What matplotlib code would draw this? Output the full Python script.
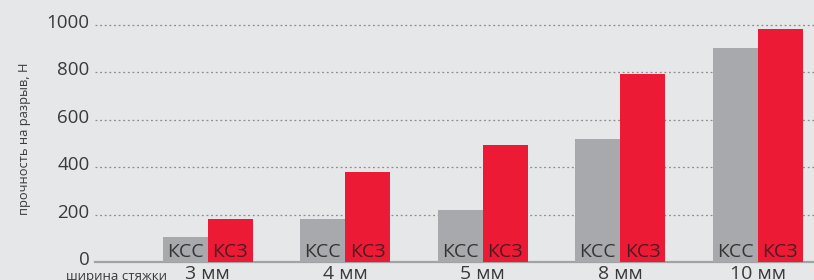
import matplotlib
matplotlib.use("Agg")
import matplotlib.pyplot as plt
import numpy as np
from matplotlib.transforms import ScaledTranslation

plt.rcParams['font.family'] = ['Open Sans', 'DejaVu Sans']

categories = ["3 мм", "4 мм", "5 мм", "8 мм", "10 мм"]
kss = [105, 180, 220, 520, 905]
ksz = [180, 378, 492, 795, 985]
series_names = ["КСС", "КСЗ"]
yticks = [0, 200, 400, 600, 800, 1000]
ylabel = "прочность на разрыв, Н"
xtitle = "ширина стяжки"

bg = "#e6e7e9"
gray = "#a8a9ac"
red = "#ed1a35"
txt = "#3a3a3a"

W, H = 814, 280
fig = plt.figure(figsize=(W / 100, H / 100), dpi=100, facecolor=bg)
ax = fig.add_axes([95 / W, 18 / H, (W - 95) / W, 262 / H])
ax.set_facecolor(bg)

x = np.arange(len(categories))
bw = 45 / 137.5
ax.bar(x - bw / 2, kss, width=bw, color=gray, zorder=3)
ax.bar(x + bw / 2, ksz, width=bw, color=red, zorder=3)

for xi in x:
    ax.text(xi - bw / 2, 21, series_names[0], ha="center", va="baseline",
            fontsize=14, color="#333333", zorder=4)
    ax.text(xi + bw / 2, 21, series_names[1], ha="center", va="baseline",
            fontsize=14, color="#4a1a22", zorder=4)

ax.set_xlim(-0.82, -0.82 + (W - 95) / 137.5)
ax.set_ylim(0, 262 / 0.237)

for s in ax.spines.values():
    s.set_visible(False)
ax.axhline(0, color="#a3a3a5", lw=1.6, zorder=2, clip_on=False)

ax.set_yticks(yticks)
ax.set_yticklabels([str(v) for v in yticks])
ax.tick_params(axis="y", length=0, pad=4, labelsize=13.5, labelcolor=txt)
for lab in ax.get_yticklabels():
    lab.set_transform(lab.get_transform() + ScaledTranslation(0, 4 / 100, fig.dpi_scale_trans))
for v in yticks[1:]:
    ax.axhline(v, color="#8c8c8c", lw=0.9, ls=(0, (1.5, 2.2)), zorder=1)

ax.set_xticks(x)
ax.set_xticklabels(categories)
ax.tick_params(axis="x", length=0, pad=2, labelsize=14, labelcolor=txt)

fig.text(25 / W, 1 - 139 / H, ylabel, rotation=90, ha="center", va="center",
         fontsize=9.3, color=txt)
fig.text(116 / W, 1 - 270 / H, xtitle, ha="center", va="top",
         fontsize=9.5, color=txt)

fig.savefig("out.png", dpi=100, facecolor=bg)
